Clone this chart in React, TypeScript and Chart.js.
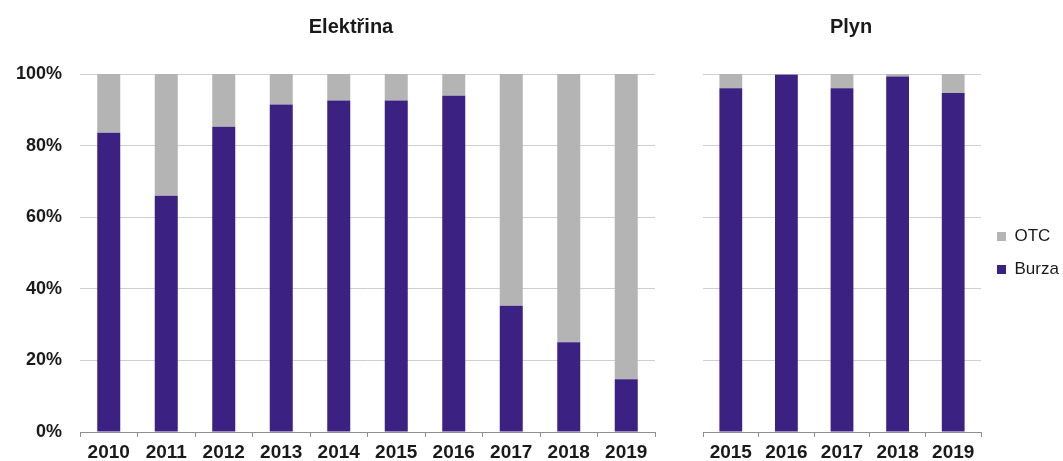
import React, { useEffect, useRef } from "react";
import { Chart, registerables } from "chart.js";

Chart.register(...registerables);

const elektrinaYears = ["2010", "2011", "2012", "2013", "2014", "2015", "2016", "2017", "2018", "2019"];
const elektrinaBurza = [83.6, 66.0, 85.3, 91.5, 92.6, 92.6, 93.9, 35.3, 25.1, 14.7];
const elektrinaOtc = [16.4, 34.0, 14.7, 8.5, 7.4, 7.4, 6.1, 64.7, 74.9, 85.3];

const plynYears = ["2015", "2016", "2017", "2018", "2019"];
const plynBurza = [96.0, 99.8, 96.0, 99.3, 94.7];
const plynOtc = [4.0, 0.2, 4.0, 0.7, 5.3];

const seriesNames = ["Burza", "OTC"];
const yTickValues = [0, 20, 40, 60, 80, 100];

const PURPLE = "#3b2181";
const GRAY = "#b4b4b4";
const TEXT = "#1a1a1a";
const FONT = "'Liberation Sans', Arial, Helvetica, sans-serif";

function makeConfig(
  title: string,
  labels: string[],
  burza: number[],
  otc: number[],
  showYLabels: boolean,
  showLegend: boolean,
  yWidth: number,
  rightSpacer: number,
  barPct: number
): any {
  const scales: any = {
    x: {
      stacked: true,
      grid: { display: true, drawOnChartArea: false, drawTicks: true, tickLength: 5, color: "#8f8f8f", offset: true },
      border: { display: true, color: "#8f8f8f" },
      ticks: { color: TEXT, font: { family: FONT, size: 19, weight: "bold" }, padding: 4, maxRotation: 0, autoSkip: false },
      afterFit: (s: any) => { s.height = 29; },
    },
    y: {
      stacked: true,
      min: 0,
      max: 100,
      afterBuildTicks: (s: any) => { s.ticks = yTickValues.map((v) => ({ value: v })); },
      ticks: {
        display: showYLabels,
        callback: (v: any) => v + "%",
        padding: 18,
        color: TEXT,
        font: { family: FONT, size: 18, weight: "bold" },
      },
      grid: { color: "#cfcfcf", drawTicks: false },
      border: { display: false },
      afterFit: (s: any) => { s.width = yWidth; },
    },
  };
  if (rightSpacer > 0) {
    scales.spacer = {
      type: "linear",
      position: "right",
      display: true,
      min: 0,
      max: 100,
      ticks: { display: false },
      grid: { display: false, drawOnChartArea: false, drawTicks: false },
      border: { display: false },
      afterFit: (s: any) => { s.width = rightSpacer; },
    };
  }
  return {
    type: "bar",
    data: {
      labels,
      datasets: [
        { label: seriesNames[0], data: burza, backgroundColor: PURPLE, borderWidth: 0, barPercentage: barPct, categoryPercentage: 1 },
        { label: seriesNames[1], data: otc, backgroundColor: GRAY, borderWidth: 0, barPercentage: barPct, categoryPercentage: 1 },
      ],
    },
    options: {
      animation: false,
      responsive: false,
      layout: { padding: 0 },
      plugins: {
        tooltip: { enabled: false },
        title: {
          display: true,
          text: title,
          color: TEXT,
          font: { family: FONT, size: 20, weight: "bold" },
          padding: { top: 15, bottom: 35 },
        },
        legend: {
          display: showLegend,
          position: "right",
          fullSize: false,
          reverse: true,
          maxWidth: 82,
          labels: {
            boxWidth: 9,
            boxHeight: 9,
            padding: 16,
            color: TEXT,
            font: { family: FONT, size: 17 },
          },
        },
      },
      scales,
    },
  };
}

export default function App() {
  const leftRef = useRef<HTMLCanvasElement | null>(null);
  const rightRef = useRef<HTMLCanvasElement | null>(null);

  useEffect(() => {
    const c1 = new Chart(
      leftRef.current as HTMLCanvasElement,
      makeConfig("Elektřina", elektrinaYears, elektrinaBurza, elektrinaOtc, true, false, 80, 47, 0.4)
    );
    const c2 = new Chart(
      rightRef.current as HTMLCanvasElement,
      makeConfig("Plyn", plynYears, plynBurza, plynOtc, false, true, 64, 0, 0.41)
    );
    return () => {
      c1.destroy();
      c2.destroy();
    };
  }, []);

  return (
    <div style={{ position: "fixed", left: 0, top: 0, width: 1063, height: 461, background: "#fff", overflow: "hidden" }}>
      <div style={{ position: "absolute", left: 0, top: 0, width: 702, height: 461 }}>
        <canvas ref={leftRef} width={702} height={461} style={{ width: 702, height: 461, display: "block" }} />
      </div>
      <div style={{ position: "absolute", left: 639, top: 0, width: 424, height: 461 }}>
        <canvas ref={rightRef} width={424} height={461} style={{ width: 424, height: 461, display: "block" }} />
      </div>
    </div>
  );
}
